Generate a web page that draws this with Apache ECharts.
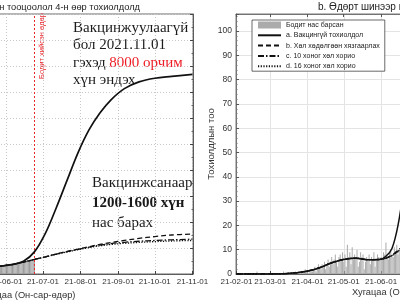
<!DOCTYPE html>
<html>
<head>
<meta charset="utf-8">
<script src="https://cdn.jsdelivr.net/npm/echarts@6/dist/echarts.min.js"></script>
<style>
  html, body { margin: 0; padding: 0; background: #fff; }
  #chart { width: 400px; height: 300px; }
</style>
</head>
<body>
<div id="chart"></div>
<script>
// both panels run over the same time span
const startDay = '2021-02-01'
const endDay = '2021-11-01'
const actualDay = '2021-06-24'
const monthTicks = ['2021-02-01', '2021-03-01', '2021-04-01', '2021-05-01', '2021-06-01',
  '2021-07-01', '2021-08-01', '2021-09-01', '2021-10-01', '2021-11-01']
const timeName = 'Хугацаа (Он-сар-өдөр)'

const seriesNames = [
  'Бодит нас барсан',
  'a. Вакцингүй тохиолдол',
  'b. Хөл хөдөлгөөн хязгаарлах',
  'c. 10 хоног хөл хорио',
  'd. 16 хоног хөл хорио'
]

// daily deaths, one value per day from 2021-02-01
const dailyDeaths = [
  // Feb
  0, 0, 0, 0, 0, 0, 0, 0, 0, 0, 0, 0, 0, 0, 0, 0, 0, 1, 0, 0, 0, 0, 0, 0, 0, 0, 0, 0,
  // Mar
  0, 0, 0, 0, 0, 0, 0, 0, 0, 0, 0, 1, 0, 0, 0, 0, 0, 0, 0, 0, 0, 1, 0, 0, 0, 0, 1, 0, 0, 2, 1,
  // Apr
  1, 0, 1, 2, 1, 2, 3, 1, 2, 4, 3, 2, 4, 3, 5, 2, 4, 6, 3, 5, 7, 4, 6, 8, 5, 3, 7, 8, 6, 9,
  // May
  5, 8, 3, 12, 7, 9, 4, 11, 6, 8, 7, 10, 3, 5, 9, 7, 8, 2, 5, 7, 6, 8, 4, 7, 6, 9, 3, 6, 8, 7, 6,
  // Jun (to the day of the estimate)
  7, 6, 9, 8, 13, 7, 6, 9, 10, 8, 7, 11, 9, 12, 8, 10, 9, 11, 8, 10, 12, 9, 11, 10
]

// panel a: cumulative deaths, model curves
const cumDates = ['2021-02-01', '2021-03-01', '2021-04-01', '2021-05-01', '2021-05-20', '2021-06-05',
  '2021-06-15', '2021-06-24', '2021-07-03', '2021-07-12', '2021-07-21', '2021-07-30', '2021-08-08',
  '2021-08-17', '2021-08-26', '2021-09-06', '2021-09-18', '2021-10-01', '2021-10-15', '2021-11-01']
const cumA = [0, 3, 25, 140, 260, 360, 490, 850, 1560, 2550, 3620, 4680, 5550, 6200, 6700, 7130, 7390, 7530, 7600, 7680]
const cumB = [0, 3, 25, 140, 260, 360, 460, 560, 660, 770, 870, 960, 1050, 1140, 1210, 1290, 1370, 1440, 1500, 1540]
const cumC = [0, 3, 25, 140, 260, 360, 460, 560, 660, 765, 860, 950, 1035, 1110, 1170, 1220, 1260, 1290, 1315, 1340]
const cumD = [0, 3, 25, 140, 260, 360, 460, 560, 655, 755, 850, 935, 1015, 1085, 1135, 1180, 1215, 1245, 1270, 1290]

// panel b: daily deaths, model curves
const rateDates = ['2021-02-01', '2021-02-15', '2021-03-01', '2021-03-12', '2021-03-22', '2021-04-01',
  '2021-04-11', '2021-04-21', '2021-05-01', '2021-05-11', '2021-05-21', '2021-05-31', '2021-06-05',
  '2021-06-10', '2021-06-15', '2021-06-20', '2021-06-25', '2021-06-30']
const rateA = [0, 0, 0, 0.1, 0.5, 1.2, 2.6, 4.6, 6, 6.5, 5.9, 6, 7.3, 10.5, 20, 36, 55, 90]
const rateB = [0, 0, 0, 0.1, 0.5, 1.2, 2.6, 4.6, 6, 6.5, 5.9, 6, 6.6, 7.8, 9.8, 11.6, 13.2, 14.6]
const rateC = [0, 0, 0, 0.1, 0.5, 1.2, 2.6, 4.6, 6, 6.5, 5.9, 6, 6.5, 7.6, 9.4, 10.9, 12.2, 13.2]
const rateD = [0, 0, 0, 0.1, 0.5, 1.2, 2.6, 4.6, 6, 6.5, 5.9, 6, 6.5, 7.5, 9.2, 10.6, 11.8, 12.7]

const cumTicks = { min: 0, max: 10000, interval: 1000 }
const rateTicks = { min: 0, max: 107, interval: 10 }

const toTime = s => new Date(s + 'T00:00:00').getTime()
const pairs = (dates, vals) => dates.map((d, i) => [toTime(d), vals[i]])
const dayOf = i => new Date(2021, 1, 1 + i).getTime()
const dailyData = dailyDeaths.map((v, i) => [dayOf(i), v])
let total = 0
const cumulativeData = dailyDeaths.map((v, i) => {
  total += v
  return [dayOf(i), total]
})
const tickValues = monthTicks.map(toTime)

const sans = '"Liberation Sans", Arial, sans-serif'
const serif = '"Liberation Serif", "Times New Roman", serif'
const lineTypes = ['solid', [5, 3], [6, 2, 1.5, 2], [1.2, 1.5]]

function modelLines (dates, lists, xi, yi, width) {
  return lists.map((vals, k) => ({
    name: seriesNames[k + 1],
    type: 'line',
    xAxisIndex: xi,
    yAxisIndex: yi,
    data: pairs(dates, vals),
    smooth: 0.35,
    symbol: 'none',
    silent: true,
    z: 5 - k,
    itemStyle: { color: '#111' },
    lineStyle: { color: '#111', width: k === 0 ? width : 1.3, type: lineTypes[k] }
  }))
}

function timeAxis (gridIndex, grid) {
  return {
    type: 'time',
    gridIndex: gridIndex,
    min: toTime(startDay),
    max: toTime(endDay),
    axisLine: { lineStyle: { color: '#444', width: 0.8 } },
    axisTick: { inside: true, length: 3, lineStyle: { color: '#444' }, customValues: tickValues },
    axisLabel: {
      formatter: '{yy}-{MM}-{dd}',
      fontSize: 8,
      color: '#333',
      margin: 4,
      fontFamily: sans,
      customValues: tickValues
    },
    splitLine: {
      show: true,
      lineStyle: grid === 'dotted' ? { color: '#c8c8c8', type: [1, 2] } : { color: '#e4e4e4' }
    }
  }
}

const chart = echarts.init(document.getElementById('chart'))
const leftTime = timeAxis(0, 'dotted')
leftTime.name = timeName
leftTime.nameLocation = 'middle'
leftTime.nameGap = 13
leftTime.nameTextStyle = { fontSize: 9.3, color: '#333', fontFamily: sans }

const option = {
  animation: false,
  backgroundColor: '#fff',
  grid: [
    { left: -140, right: 207, top: 14, bottom: 26, outerBoundsMode: 'none', containLabel: false, show: true, borderColor: '#444', borderWidth: 0.8 },
    { left: 236, right: -166, top: 14, bottom: 26, outerBoundsMode: 'none', containLabel: false, show: true, borderColor: '#555', borderWidth: 0.8 }
  ],
  xAxis: [
    leftTime,
    timeAxis(1, 'solid'),
    {
      type: 'time',
      gridIndex: 1,
      position: 'top',
      min: toTime(startDay),
      max: toTime(endDay),
      axisLine: { lineStyle: { color: '#555', width: 0.8 } },
      axisTick: { inside: true, length: 3, lineStyle: { color: '#555' }, customValues: tickValues },
      axisLabel: { show: false },
      splitLine: { show: false }
    }
  ],
  yAxis: [
    {
      type: 'value',
      gridIndex: 0,
      min: cumTicks.min,
      max: cumTicks.max,
      interval: cumTicks.interval,
      axisLabel: { show: false },
      axisLine: { show: true, lineStyle: { color: '#444' } },
      splitLine: { lineStyle: { color: '#c8c8c8', type: [1, 2] } }
    },
    {
      type: 'value',
      gridIndex: 0,
      position: 'right',
      min: cumTicks.min,
      max: cumTicks.max,
      interval: cumTicks.interval,
      axisLabel: { show: false },
      axisLine: { show: true, lineStyle: { color: '#444', width: 0.8 } },
      axisTick: { show: true, inside: true, length: 3, lineStyle: { color: '#444' } },
      minorTick: { show: true, splitNumber: 2, length: 1.5, lineStyle: { color: '#666' } },
      splitLine: { show: false }
    },
    {
      type: 'value',
      gridIndex: 1,
      min: rateTicks.min,
      max: rateTicks.max,
      interval: rateTicks.interval,
      axisLine: { show: true, lineStyle: { color: '#555', width: 0.8 } },
      axisTick: { show: true, inside: true, length: 3, lineStyle: { color: '#555' } },
      minorTick: { show: true, splitNumber: 5, length: 1.5, lineStyle: { color: '#777' } },
      axisLabel: { fontSize: 8.5, color: '#333', margin: 4, showMaxLabel: false, fontFamily: sans },
      splitLine: { lineStyle: { color: '#e4e4e4' } },
      name: 'Тохиолдлын тоо',
      nameLocation: 'middle',
      nameGap: 20,
      nameMoveOverlap: false,
      nameTextStyle: { fontSize: 9.5, color: '#333', fontFamily: sans }
    }
  ],
  legend: {
    orient: 'vertical',
    left: 252,
    top: 20,
    padding: [1.5, 5],
    itemWidth: 23,
    itemHeight: 7,
    itemGap: 3.3,
    backgroundColor: '#fff',
    borderColor: '#444',
    borderWidth: 0.8,
    borderRadius: 0,
    selectedMode: false,
    textStyle: { fontSize: 7, lineHeight: 7, color: '#222', fontFamily: sans },
    data: [
      { name: seriesNames[0], icon: 'rect', itemStyle: { color: '#ababab' } },
      { name: seriesNames[1], itemStyle: { opacity: 0 } },
      { name: seriesNames[2], itemStyle: { opacity: 0 } },
      { name: seriesNames[3], itemStyle: { opacity: 0 } },
      { name: seriesNames[4], itemStyle: { opacity: 0 } }
    ]
  },
  series: [
    {
      name: seriesNames[0],
      type: 'bar',
      xAxisIndex: 0,
      yAxisIndex: 0,
      data: cumulativeData,
      barWidth: 1,
      silent: true,
      itemStyle: { color: '#9a9a9a' },
      markLine: {
        silent: true,
        symbol: 'none',
        label: { show: false },
        lineStyle: { color: '#e8262b', type: [2, 2], width: 1 },
        data: [{ xAxis: toTime(actualDay) }]
      }
    },
    ...modelLines(cumDates, [cumA, cumB, cumC, cumD], 0, 0, 1.7),
    {
      name: seriesNames[0],
      type: 'bar',
      xAxisIndex: 1,
      yAxisIndex: 2,
      data: dailyData,
      barWidth: 1,
      silent: true,
      itemStyle: { color: '#ababab' }
    },
    ...modelLines(rateDates, [rateA, rateB, rateC, rateD], 1, 2, 1.5)
  ],
  graphic: [
    {
      type: 'text', x: 140, y: 7,
      style: { text: 'а. Нас баралтын тооцоолол 4-н өөр тохиолдолд', font: '9.3px ' + sans, fill: '#222', align: 'right', verticalAlign: 'middle', textAlign: 'right', textVerticalAlign: 'middle' }
    },
    {
      type: 'text', x: 318, y: 7,
      style: { text: 'b. Өдөрт шинээр нас барсан тохиолдол', font: '10px ' + sans, fill: '#222', align: 'left', verticalAlign: 'middle', textAlign: 'left', textVerticalAlign: 'middle' }
    },
    {
      // name of the right panel's time axis, centred under its (wider than the page) grid
      type: 'text', x: 401, y: 292,
      style: { text: timeName, font: '9.3px ' + sans, fill: '#333', align: 'center', verticalAlign: 'middle', textAlign: 'center', textVerticalAlign: 'middle' }
    },
    {
      type: 'text', x: 41.5, y: 46, rotation: Math.PI / 2,
      style: { text: 'Бодит хийсэн өдөр', font: '7.5px ' + sans, fill: '#e8262b', align: 'center', verticalAlign: 'middle', textAlign: 'center', textVerticalAlign: 'middle' }
    },
    {
      type: 'text', x: 73, y: 28,
      style: { text: 'Вакцинжуулаагүй', font: '15px ' + serif, fill: '#1a1a1a', verticalAlign: 'middle', textVerticalAlign: 'middle' }
    },
    {
      type: 'text', x: 73, y: 45.5,
      style: { text: 'бол 2021.11.01', font: '15px ' + serif, fill: '#1a1a1a', verticalAlign: 'middle', textVerticalAlign: 'middle' }
    },
    {
      type: 'text', x: 73, y: 63,
      style: {
        text: 'гэхэд {r|8000 орчим}',
        font: '15px ' + serif,
        fill: '#1a1a1a',
        verticalAlign: 'middle',
        textVerticalAlign: 'middle',
        rich: { r: { fill: '#ee1c24', color: '#ee1c24', font: '15px ' + serif } }
      }
    },
    {
      type: 'text', x: 73, y: 80.5,
      style: { text: 'хүн эндэх', font: '15px ' + serif, fill: '#1a1a1a', verticalAlign: 'middle', textVerticalAlign: 'middle' }
    },
    {
      type: 'text', x: 92, y: 183,
      style: { text: 'Вакцинжсанаар', font: '15px ' + serif, fill: '#1a1a1a', verticalAlign: 'middle', textVerticalAlign: 'middle' }
    },
    {
      type: 'text', x: 92, y: 203,
      style: { text: '1200-1600 хүн', font: 'bold 15px ' + serif, fill: '#1a1a1a', verticalAlign: 'middle', textVerticalAlign: 'middle' }
    },
    {
      type: 'text', x: 92, y: 223,
      style: { text: 'нас барах', font: '15px ' + serif, fill: '#1a1a1a', verticalAlign: 'middle', textVerticalAlign: 'middle' }
    }
  ]
}
chart.setOption(option)
</script>
</body>
</html>
